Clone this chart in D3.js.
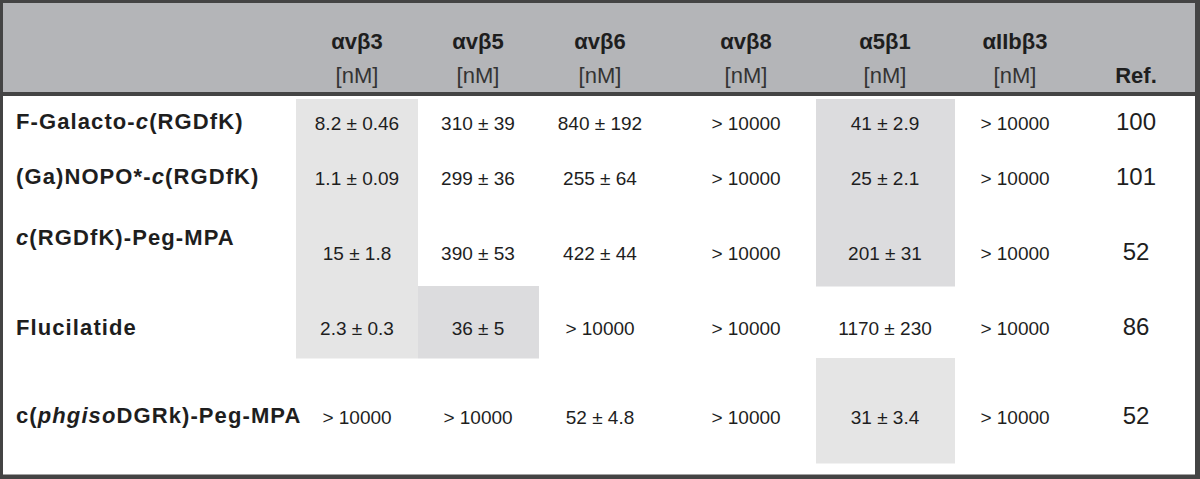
<!DOCTYPE html>
<html lang="en">
<head>
<meta charset="utf-8">
<style>
  body { margin: 0; background: #fff; }
  text { font-family: "Liberation Sans", Arial, sans-serif; fill: #1e1e1e; }
</style>
</head>
<body>
<script src="https://d3js.org/d3.v7.min.js"></script>
<script>
  // compounds (italic parts between underscores)
  const compounds = ["F-Galacto-_c_(RGDfK)", "(Ga)NOPO*-_c_(RGDfK)", "_c_(RGDfK)-Peg-MPA", "Flucilatide", "c(_phgiso_DGRk)-Peg-MPA"];
  const integrins = ["αvβ3", "αvβ5", "αvβ6", "αvβ8", "α5β1", "αIIbβ3"];
  const unit = "[nM]";

  // IC50 values per integrin, one entry per compound
  const avb3 = ["8.2 ± 0.46", "1.1 ± 0.09", "15 ± 1.8", "2.3 ± 0.3", "> 10000"];
  const avb5 = ["310 ± 39", "299 ± 36", "390 ± 53", "36 ± 5", "> 10000"];
  const avb6 = ["840 ± 192", "255 ± 64", "422 ± 44", "> 10000", "52 ± 4.8"];
  const avb8 = ["> 10000", "> 10000", "> 10000", "> 10000", "> 10000"];
  const a5b1 = ["41 ± 2.9", "25 ± 2.1", "201 ± 31", "1170 ± 230", "31 ± 3.4"];
  const aIIbb3 = ["> 10000", "> 10000", "> 10000", "> 10000", "> 10000"];
  const refs = ["100", "101", "52", "86", "52"];

  // highlighted (selective) cells: [compound index, integrin index, tone]
  const highlights = [
    [0, 0, 0], [1, 0, 0], [2, 0, 0], [3, 0, 0],
    [3, 1, 1],
    [0, 4, 1], [1, 4, 1], [2, 4, 1],
    [4, 4, 0]
  ];

  const columns = [avb3, avb5, avb6, avb8, a5b1, aIIbb3];

  const width = 1200, height = 479;
  const svg = d3.select("body").append("svg")
    .attr("width", width).attr("height", height);

  // layout scales
  const xCol = d3.scaleOrdinal().domain(integrins.concat(["Ref."]))
    .range([357, 478, 600, 746, 885, 1015, 1136]);
  const colEdge = d3.scaleOrdinal().domain(integrins)
    .range([[296, 418], [418, 539], [539, 660], [660, 816], [816, 955], [955, 1075]]);
  const yRow = d3.scaleOrdinal().domain(compounds)
    .range([130, 185, 260, 335, 424]);
  const yLabel = d3.scaleOrdinal().domain(compounds)
    .range([129, 184, 245, 335, 423]);
  const rowEdge = d3.scaleOrdinal().domain(compounds)
    .range([[99, 150], [150, 205], [205, 286], [286, 358], [358, 463]]);
  const tones = ["#e5e5e5", "#dcdcde"];

  // header band
  svg.append("rect").attr("x", 0).attr("y", 0).attr("width", width).attr("height", 94)
    .attr("fill", "#b4b5b8");
  svg.append("line").attr("x1", 0).attr("x2", width).attr("y1", 94).attr("y2", 94)
    .attr("stroke", "#444").attr("stroke-width", 4);

  // shaded cells
  svg.append("g").selectAll("rect")
    .data(highlights)
    .join("rect")
      .attr("x", d => colEdge(integrins[d[1]])[0])
      .attr("width", d => colEdge(integrins[d[1]])[1] - colEdge(integrins[d[1]])[0])
      .attr("y", d => rowEdge(compounds[d[0]])[0])
      .attr("height", d => rowEdge(compounds[d[0]])[1] - rowEdge(compounds[d[0]])[0] + 0.5)
      .attr("fill", d => tones[d[2]]);

  // header texts
  const head = svg.append("g");
  head.selectAll("text.h1")
    .data(integrins)
    .join("text")
      .attr("class", "h1")
      .attr("x", d => xCol(d)).attr("y", 49)
      .attr("text-anchor", "middle")
      .attr("font-size", 22).attr("font-weight", "bold")
      .text(d => d);
  head.selectAll("text.h2")
    .data(integrins)
    .join("text")
      .attr("class", "h2")
      .attr("x", d => xCol(d)).attr("y", 83)
      .attr("text-anchor", "middle")
      .attr("font-size", 22)
      .style("fill", "#333")
      .text(unit);
  head.append("text")
    .attr("x", xCol("Ref.")).attr("y", 83)
    .attr("text-anchor", "middle")
    .attr("font-size", 22).attr("font-weight", "bold")
    .text("Ref.");

  // compound labels
  const labels = svg.append("g").selectAll("text")
    .data(compounds)
    .join("text")
      .attr("x", 16).attr("y", d => yLabel(d))
      .attr("font-size", 22).attr("font-weight", "bold")
      .attr("letter-spacing", 1.1);
  labels.selectAll("tspan")
    .data(d => d.split("_").map((s, i) => ({ s, it: i % 2 === 1 })))
    .join("tspan")
      .attr("font-style", d => d.it ? "italic" : null)
      .text(d => d.s);

  // values
  const cells = [];
  columns.forEach((col, j) => col.forEach((v, i) => cells.push({ c: compounds[i], k: integrins[j], v })));
  svg.append("g").selectAll("text")
    .data(cells)
    .join("text")
      .attr("x", d => xCol(d.k)).attr("y", d => yRow(d.c))
      .attr("text-anchor", "middle")
      .attr("font-size", 19)
      .text(d => d.v);

  // references
  svg.append("g").selectAll("text")
    .data(refs)
    .join("text")
      .attr("x", xCol("Ref.")).attr("y", (d, i) => yRow(compounds[i]))
      .attr("text-anchor", "middle")
      .attr("font-size", 24)
      .text(d => d);

  // outer frame
  svg.append("rect").attr("x", 1.5).attr("y", 1.5)
    .attr("width", width - 4.5).attr("height", height - 4.5)
    .attr("fill", "none").attr("stroke", "#444").attr("stroke-width", 3);
  svg.append("line").attr("x1", width - 2.5).attr("x2", width - 2.5).attr("y1", 0).attr("y2", height)
    .attr("stroke", "#444").attr("stroke-width", 5);
  svg.append("line").attr("x1", 0).attr("x2", width).attr("y1", height - 2).attr("y2", height - 2)
    .attr("stroke", "#444").attr("stroke-width", 4);
</script>
</body>
</html>
